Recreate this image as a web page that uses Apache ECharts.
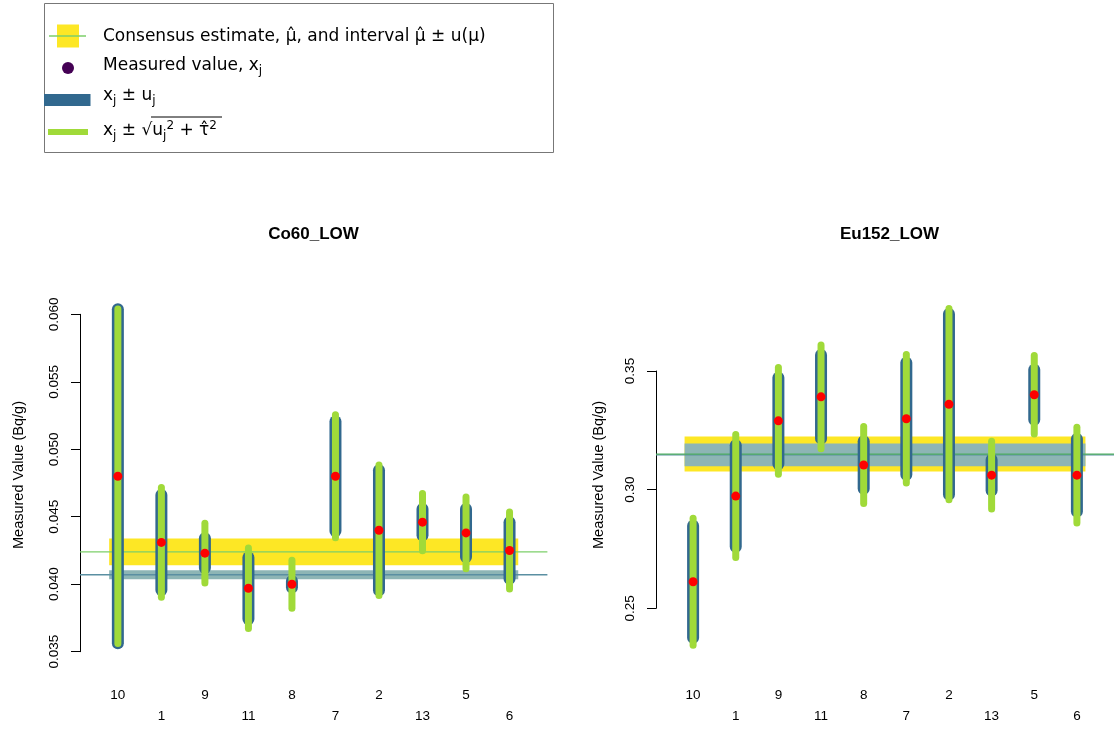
<!DOCTYPE html>
<html>
<head>
<meta charset="utf-8">
<script src="https://cdn.jsdelivr.net/npm/echarts@6/dist/echarts.min.js"></script>
<style>html,body{margin:0;padding:0;background:#fff}#c{width:1114px;height:729px}</style>
</head>
<body>
<div id="c"></div>
<script>
// ---- data ----
const labs = ['10', '1', '9', '11', '8', '7', '2', '13', '5', '6'];
const panelTitles = ['Co60_LOW', 'Eu152_LOW'];

const co60Values = [0.0480, 0.0431, 0.0423, 0.0397, 0.0400, 0.0480, 0.0440, 0.0446, 0.0438, 0.0425];
const co60U      = [0.01238, 0.00352, 0.00110, 0.00228, 0.00024, 0.00406, 0.00444, 0.00098, 0.00178, 0.00210];
const co60Utot   = [0.0124, 0.00407, 0.00221, 0.00298, 0.00178, 0.00455, 0.00484, 0.00212, 0.00266, 0.00285];
const co60Consensus = [0.04240, 0.00099];   // estimate, u
const co60Second    = [0.04070, 0.00034];   // second estimate, u

const eu152Values = [0.2612, 0.2973, 0.3290, 0.3391, 0.3104, 0.3299, 0.3360, 0.3061, 0.3400, 0.3061];
const eu152U      = [0.0236, 0.0214, 0.0182, 0.0176, 0.0100, 0.0236, 0.0380, 0.0065, 0.0105, 0.0153];
const eu152Utot   = [0.0268, 0.0259, 0.0225, 0.0219, 0.0162, 0.0271, 0.0403, 0.0143, 0.0165, 0.0202];
const eu152Consensus = [0.3150, 0.00735];
const eu152Second    = [0.31466, 0.00475];

const co60Ticks  = [0.035, 0.060, 0.005];
const eu152Ticks = [0.25, 0.35, 0.05];

// ---- styles ----
const BLUE = '#31688e', GREEN = '#a0da39', YELLOW = '#fde725', PURPLE = '#440154';
const TEAL_BAND = '#8db5b5', TEAL_LINE = '#5a8fa2', CONS_LINE = '#7ccf6a';
const FONT = 'Liberation Sans, Arial, sans-serif';
const XMIN = -0.87, XMAX = 9.87, BAND_L = -0.2, BAND_R = 9.2;

const chart = echarts.init(document.getElementById('c'), null, {renderer: 'canvas'});

const grids = [
  {left: 80, top: 314.3, width: 467.4, height: 337.4},
  {left: 656, top: 371, width: 467.4, height: 237.3}
];

function xAxisFor(g, margin) {
  return {
    type: 'value', gridIndex: g, min: XMIN, max: XMAX,
    axisLine: {show: false, onZero: false}, axisTick: {show: false}, splitLine: {show: false},
    axisLabel: {
      customValues: labs.map((_, i) => i),
      margin: margin, fontSize: 13.5, color: '#000', fontFamily: FONT, lineHeight: 21,
      formatter: v => { const i = Math.round(v); return i % 2 ? '\n' + labs[i] : labs[i]; }
    }
  };
}
function yAxisFor(g, ticks, digits) {
  return {
    type: 'value', gridIndex: g, min: ticks[0], max: ticks[1], interval: ticks[2],
    axisLine: {show: true, onZero: false, lineStyle: {color: '#000', width: 1}},
    axisTick: {show: true, length: 9, lineStyle: {color: '#000', width: 1}},
    splitLine: {show: false},
    axisLabel: {rotate: 90, margin: 19, fontSize: 13.5, color: '#000', fontFamily: FONT,
      formatter: v => v.toFixed(digits)}
  };
}

function bandSeries(g, est, color, z) {
  return {
    type: 'custom', xAxisIndex: g, yAxisIndex: g, clip: false, z: z, silent: true,
    data: [[est[0] - est[1], est[0] + est[1]]],
    encode: {y: [0, 1]},
    renderItem: (params, api) => {
      const p1 = api.coord([BAND_L, api.value(1)]);
      const p2 = api.coord([BAND_R, api.value(0)]);
      return {type: 'rect', shape: {x: p1[0], y: p1[1], width: p2[0] - p1[0], height: p2[1] - p1[1]},
        style: {fill: color}};
    }
  };
}
function hlineSeries(g, value, color, z) {
  return {
    type: 'custom', xAxisIndex: g, yAxisIndex: g, clip: false, z: z, silent: true,
    data: [[value]], encode: {y: 0},
    renderItem: (params, api) => {
      const cs = params.coordSys;
      const y = api.coord([0, api.value(0)])[1];
      return {type: 'line', shape: {x1: cs.x, y1: y, x2: cs.x + cs.width, y2: y},
        style: {stroke: color, lineWidth: 1.3}};
    }
  };
}
function barSeries(g, vals, us, color, width, z) {
  return {
    type: 'custom', xAxisIndex: g, yAxisIndex: g, clip: false, z: z, silent: true,
    data: vals.map((v, i) => [i, v - us[i], v + us[i]]),
    encode: {x: 0, y: [1, 2]},
    renderItem: (params, api) => {
      const p1 = api.coord([api.value(0), api.value(1)]);
      const p2 = api.coord([api.value(0), api.value(2)]);
      return {type: 'line', shape: {x1: p1[0], y1: p1[1], x2: p2[0], y2: p2[1]},
        style: {stroke: color, lineWidth: width, lineCap: 'round'}};
    }
  };
}
function pointSeries(g, vals) {
  return {
    type: 'scatter', xAxisIndex: g, yAxisIndex: g, clip: false, z: 10, silent: true,
    data: vals.map((v, i) => [i, v]), symbolSize: 9,
    itemStyle: {color: '#ff0000', opacity: 1}
  };
}

const series = [
  bandSeries(0, co60Consensus, YELLOW, 1),
  bandSeries(0, co60Second, TEAL_BAND, 2),
  hlineSeries(0, co60Second[0], TEAL_LINE, 3),
  hlineSeries(0, co60Consensus[0], CONS_LINE, 3),
  barSeries(0, co60Values, co60U, BLUE, 12, 4),
  barSeries(0, co60Values, co60Utot, GREEN, 7, 5),
  pointSeries(0, co60Values),

  bandSeries(1, eu152Consensus, YELLOW, 1),
  bandSeries(1, eu152Second, TEAL_BAND, 2),
  hlineSeries(1, eu152Second[0], TEAL_LINE, 3),
  hlineSeries(1, eu152Consensus[0], '#4fae62', 3),
  barSeries(1, eu152Values, eu152U, BLUE, 12, 4),
  barSeries(1, eu152Values, eu152Utot, GREEN, 7, 5),
  pointSeries(1, eu152Values)
];

// ---- legend (drawn as graphic because of the math labels) ----
const LF = 'DejaVu Sans, sans-serif';
const rich = {
  s: {fontSize: 12, fontFamily: LF, padding: [10, 0, 0, 0], color: '#000'},
  p: {fontSize: 12, fontFamily: LF, padding: [0, 0, 10, 0], color: '#000'},
  n: {fontSize: 17, fontFamily: LF, color: '#000'}
};
function legText(x, y, text) {
  return {type: 'text', x: x, y: y, style: {text: text, rich: rich, fontSize: 17, fontFamily: LF,
    fill: '#000', verticalAlign: 'middle', align: 'left'}};
}
const graphic = [
  {type: 'rect', shape: {x: 44.5, y: 3.5, width: 509, height: 149}, style: {fill: '#fff', stroke: '#777', lineWidth: 1}},
  {type: 'rect', shape: {x: 57, y: 24.5, width: 22, height: 23}, style: {fill: YELLOW}},
  {type: 'line', shape: {x1: 49, y1: 36, x2: 86, y2: 36}, style: {stroke: CONS_LINE, lineWidth: 1.3}},
  legText(103, 37, '{n|Consensus estimate, μ\u0302, and interval μ\u0302 ± u(μ)}'),
  {type: 'circle', shape: {cx: 68, cy: 68, r: 6}, style: {fill: PURPLE}},
  legText(103, 66, '{n|Measured value, x}{s|j}'),
  {type: 'rect', shape: {x: 44, y: 94, width: 46.5, height: 12}, style: {fill: BLUE}},
  legText(103, 96, '{n|x}{s|j}{n| ± u}{s|j}'),
  {type: 'line', shape: {x1: 48, y1: 132, x2: 88, y2: 132}, style: {stroke: GREEN, lineWidth: 6}},
  legText(103, 131, '{n|x}{s|j}{n| ± √u}{s|j}{p|2}{n| + τ\u0302}{p|2}'),
  {type: 'line', shape: {x1: 151, y1: 117, x2: 222, y2: 117}, style: {stroke: '#000', lineWidth: 1}},
  // y axis names
  {type: 'text', x: 18.5, y: 475, rotation: Math.PI / 2,
    style: {text: 'Measured Value (Bq/g)', fontSize: 14.5, fontFamily: FONT, fill: '#000', align: 'center', verticalAlign: 'middle'}},
  {type: 'text', x: 599, y: 475, rotation: Math.PI / 2,
    style: {text: 'Measured Value (Bq/g)', fontSize: 14.5, fontFamily: FONT, fill: '#000', align: 'center', verticalAlign: 'middle'}}
];

chart.setOption({
  animation: false,
  backgroundColor: '#fff',
  title: [
    {text: panelTitles[0], left: 313.5, top: 226, textAlign: 'center', padding: 0,
      textStyle: {fontSize: 17, fontWeight: 'bold', fontFamily: FONT, color: '#000'}},
    {text: panelTitles[1], left: 889.5, top: 226, textAlign: 'center', padding: 0,
      textStyle: {fontSize: 17, fontWeight: 'bold', fontFamily: FONT, color: '#000'}}
  ],
  grid: grids,
  xAxis: [xAxisFor(0, 33), xAxisFor(1, 76.2)],
  yAxis: [yAxisFor(0, co60Ticks, 3), yAxisFor(1, eu152Ticks, 2)],
  series: series,
  graphic: graphic
});
</script>
</body>
</html>
